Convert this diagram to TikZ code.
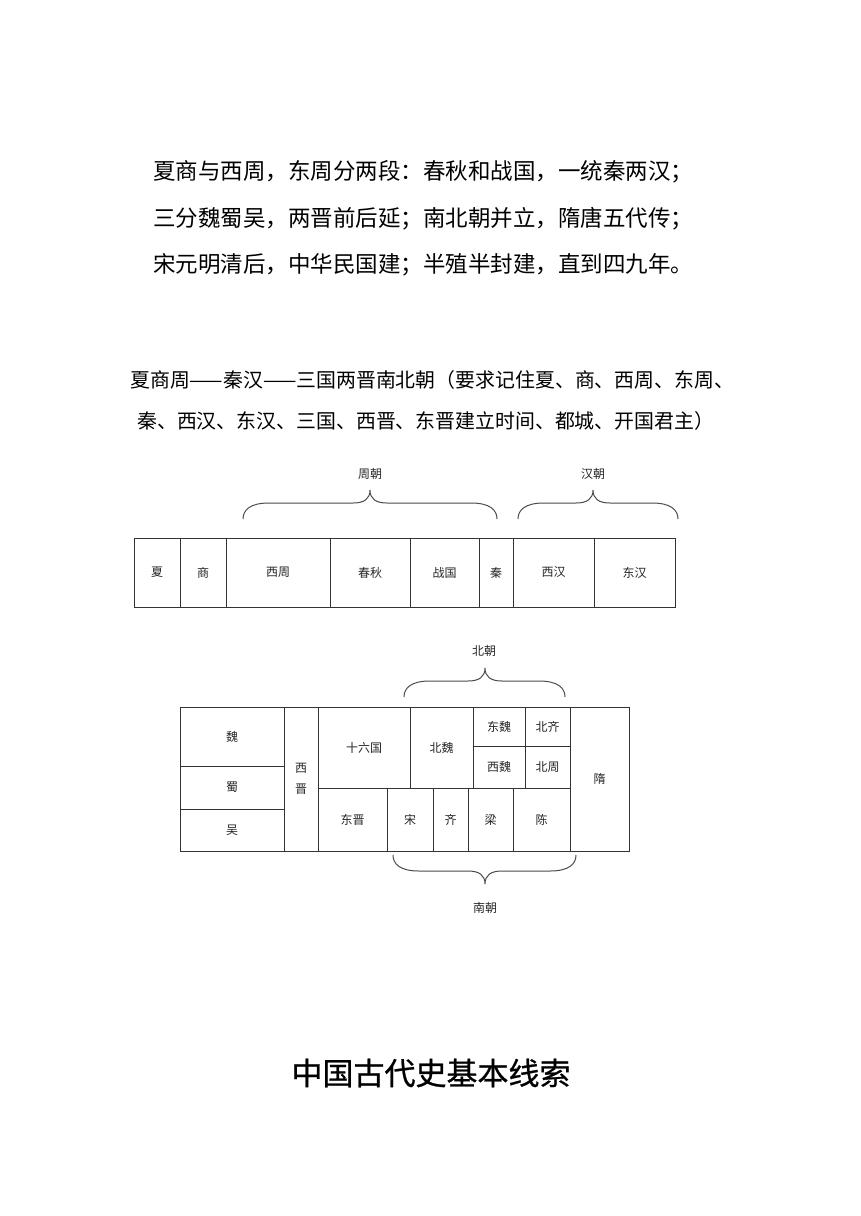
\documentclass[tikz,border=0pt]{standalone}
\usepackage{fontspec}
\setmainfont{Noto Sans CJK SC}
\newfontfamily\titlefont[FakeBold=0.8]{Noto Sans CJK SC}
\newcommand\tabcell[6]{\node[cellbox, minimum width={#4-#2}, minimum height={#5-#3}] (#1) at ({(#2+#4)/2},{(#3+#5)/2}) {#6};}
\newcommand\mybrace[5]{%
\draw[brc] (#1,#4) .. controls (#1,{#4-(#5)*9}) and ({#1+7},{#4-(#5)*16}) .. ({#1+26},{#4-(#5)*16})
 -- ({#3-17},{#4-(#5)*16}) .. controls ({#3-6},{#4-(#5)*16}) and (#3,{#4-(#5)*20}) .. (#3,{#4-(#5)*29})
 .. controls (#3,{#4-(#5)*20}) and ({#3+6},{#4-(#5)*16}) .. ({#3+17},{#4-(#5)*16})
 -- ({#2-26},{#4-(#5)*16}) .. controls ({#2-7},{#4-(#5)*16}) and (#2,{#4-(#5)*9}) .. (#2,#4);}
\begin{document}
\begin{tikzpicture}[x=1pt,y=-1pt,
  verse/.style={anchor=west, inner sep=0pt, font=\fontsize{22.5}{27}\selectfont},
  note/.style={anchor=west, inner sep=0pt, font=\fontsize{19.9}{24}\selectfont},
  cellbox/.style={draw=black!80, line width=1pt, inner sep=0pt, font=\fontsize{12}{21}\selectfont, align=center, text=black!85},
  brc/.style={draw=black!70, line width=1pt},
  blabel/.style={inner sep=0pt, font=\fontsize{12}{14}\selectfont, text=black!85},
  title/.style={inner sep=0pt, font=\fontsize{31}{36}\titlefont}]
\useasboundingbox (0,0) rectangle (860,1216);
\fill[white] (0,0) rectangle (860,1216);

\node[verse] (v1) at (153,172) {夏商与西周，东周分两段：春秋和战国，一统秦两汉；};
\node[verse] (v2) at (153,219) {三分魏蜀吴，两晋前后延；南北朝并立，隋唐五代传；};
\node[verse] (v3) at (153,265) {宋元明清后，中华民国建；半殖半封建，直到四九年。};

\node[note] (n1) at (130,380) {夏商周——秦汉——三国两晋南北朝（要求记住夏、商、西周、东周、};
\node[note] (n2) at (137,421) {秦、西汉、东汉、三国、西晋、东晋建立时间、都城、开国君主）};

% table 1
\tabcell{xia}{134}{538}{180}{607}{夏}
\tabcell{shang}{180}{538}{226}{607}{商}
\tabcell{xizhou}{226}{538}{330}{607}{西周}
\tabcell{chunqiu}{330}{538}{410}{607}{春秋}
\tabcell{zhanguo}{410}{538}{479}{607}{战国}
\tabcell{qin}{479}{538}{513}{607}{秦}
\tabcell{xihan}{513}{538}{594}{607}{西汉}
\tabcell{donghan}{594}{538}{675}{607}{东汉}

\mybrace{243}{497}{370}{519}{1}
\node[blabel] (zhouchao) at (370,474) {周朝};
\mybrace{518}{678}{593}{519}{1}
\node[blabel] (hanchao) at (593,474) {汉朝};

% table 2
\tabcell{wei}{180}{707}{284}{766}{魏}
\tabcell{shu}{180}{766}{284}{809}{蜀}
\tabcell{wu}{180}{809}{284}{851}{吴}
\tabcell{xijin}{284}{707}{318}{851}{西\\晋}
\tabcell{shiliuguo}{318}{707}{410}{788}{十六国}
\tabcell{beiwei}{410}{707}{473}{788}{北魏}
\tabcell{dongwei}{473}{707}{525}{746}{东魏}
\tabcell{beiqi}{525}{707}{570}{746}{北齐}
\tabcell{xiwei}{473}{746}{525}{788}{西魏}
\tabcell{beizhou}{525}{746}{570}{788}{北周}
\tabcell{dongjin}{318}{788}{387}{851}{东晋}
\tabcell{song}{387}{788}{433}{851}{宋}
\tabcell{qi}{433}{788}{468}{851}{齐}
\tabcell{liang}{468}{788}{513}{851}{梁}
\tabcell{chen}{513}{788}{570}{851}{陈}
\tabcell{sui}{570}{707}{629}{851}{隋}

\mybrace{404}{565}{485}{697}{1}
\node[blabel] (beichao) at (484,651) {北朝};
\mybrace{393}{576}{485}{855}{-1}
\node[blabel] (nanchao) at (485,908) {南朝};

\node[title] (t) at (431,1073) {中国古代史基本线索};
\end{tikzpicture}
\end{document}
